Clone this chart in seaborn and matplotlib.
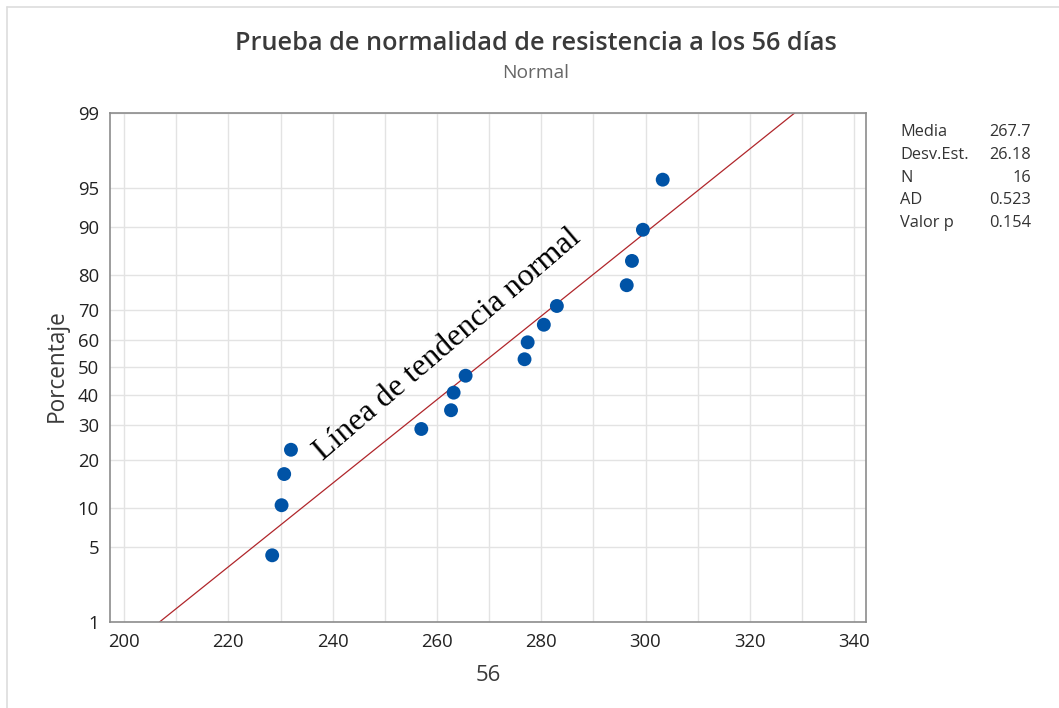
import numpy as np
import pandas as pd
import matplotlib
matplotlib.use("Agg")
import matplotlib.pyplot as plt
from matplotlib.lines import Line2D
import seaborn as sns
from statistics import NormalDist

# data
resistencia = [228.4, 230.2, 230.7, 232.0, 257.0, 262.7, 263.2, 265.5,
               276.8, 277.4, 280.5, 283.0, 296.4, 297.4, 299.5, 303.3]
porcentaje = [4.3, 10.4, 16.5, 22.6, 28.7, 34.8, 40.9, 47.0,
              53.0, 59.1, 65.2, 71.3, 77.4, 83.5, 89.6, 95.7]
pct_ticks = [1, 5, 10, 20, 30, 40, 50, 60, 70, 80, 90, 95, 99]
x_ticks = [200, 220, 240, 260, 280, 300, 320, 340]
stat_names = ["Media", "Desv.Est.", "N", "AD", "Valor p"]
stat_values = ["267.7", "26.18", "16", "0.523", "0.154"]
media = 267.7
desv = 26.18

sns.set_theme(style="whitegrid")
plt.rcParams["font.family"] = ["Open Sans", "DejaVu Sans"]

nd = NormalDist()
_fwd = np.vectorize(lambda p: nd.inv_cdf(min(max(p / 100.0, 1e-9), 1 - 1e-9)), otypes=[float])
_inv = np.vectorize(lambda z: nd.cdf(z) * 100.0, otypes=[float])

df = pd.DataFrame({"x": resistencia, "p": porcentaje})
fit = pd.DataFrame({"p": [1, 99]})
fit["x"] = [media + desv * nd.inv_cdf(v / 100) for v in fit["p"]]

fig = plt.figure(figsize=(10.59, 7.08), dpi=100)
ax = fig.add_axes([0.1039, 0.1215, 0.7139, 0.7189])
ax.set_yscale("function", functions=(_fwd, _inv))

sns.lineplot(data=fit, x="x", y="p", ax=ax, color="#B0262B", linewidth=0.9)
sns.scatterplot(data=df, x="x", y="p", ax=ax, color="#0053A6", s=100,
                edgecolor="none", zorder=3)

ax.set_xlim(197.3, 342.3)
ax.set_ylim(1, 99)
ax.set_yticks(pct_ticks)
ax.set_yticklabels([str(t) for t in pct_ticks])
ax.set_xticks(x_ticks)
ax.set_xticks(np.arange(210, 341, 20), minor=True)
ax.grid(True, which="both", color="#E3E3E3", linewidth=1)
ax.tick_params(axis="both", which="major", length=5, width=1, color="#8C8C8C",
               labelsize=13.3, labelcolor="#222222", pad=3)
ax.tick_params(axis="x", which="minor", length=0)
for s in ax.spines.values():
    s.set_color("#8C8C8C")
    s.set_linewidth(1.2)
ax.set_xlabel("")
ax.set_ylabel("")

fig.text(0.054, 0.483, "Porcentaje", rotation=90, ha="center", va="center",
         fontsize=16.3, color="#3A3A3A")
fig.text(0.461, 0.046, "56", ha="center", va="center", fontsize=16, color="#3A3A3A")
fig.text(0.506, 0.939, "Prueba de normalidad de resistencia a los 56 días",
         ha="center", va="center", fontsize=18.2, fontweight="semibold", color="#3A3A3A")
fig.text(0.506, 0.897, "Normal", ha="center", va="center", fontsize=13.8, color="#666666")

ax.text(0.446, 0.544, "Línea de tendencia normal", transform=ax.transAxes,
        rotation=40.5, rotation_mode="anchor", ha="center", va="center",
        fontsize=23, family=["Liberation Serif", "DejaVu Serif"], color="black")

ys = [0.8136, 0.781, 0.749, 0.7175, 0.685]
for name, val, yy in zip(stat_names, stat_values, ys):
    fig.text(0.850, yy, name, ha="left", va="center", fontsize=11.8, color="#333333")
    fig.text(0.9735, yy, val, ha="right", va="center", fontsize=11.8, color="#333333")

fig.add_artist(Line2D([7 / 1059, 7 / 1059], [0, 1 - 7 / 708], color="#DDDDDD", lw=1.2))
fig.add_artist(Line2D([7 / 1059, 1], [1 - 7 / 708, 1 - 7 / 708], color="#DDDDDD", lw=1.2))

fig.savefig("out.png", dpi=100)
